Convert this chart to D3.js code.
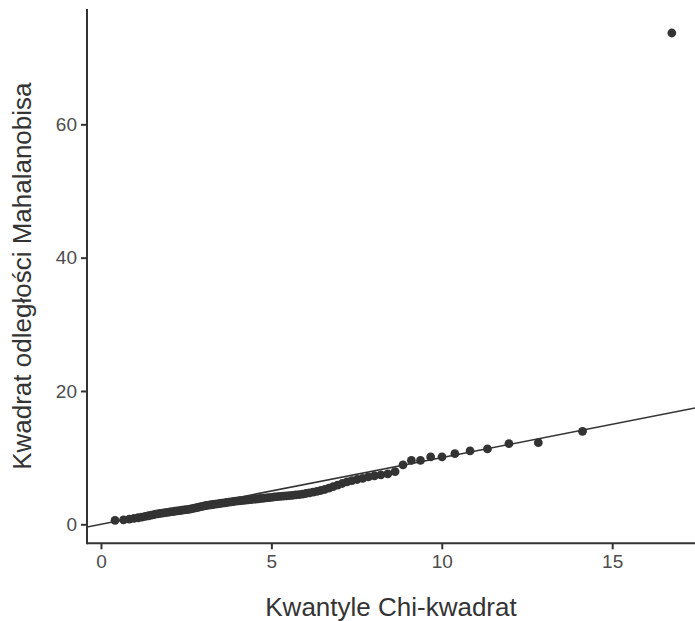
<!DOCTYPE html>
<html>
<head>
<meta charset="utf-8">
<script src="https://cdn.jsdelivr.net/npm/d3@7"></script>
<style>
  html, body { margin: 0; padding: 0; background: #fff; }
  svg { display: block; }
  text { font-family: "Liberation Sans", Arial, sans-serif; }
</style>
</head>
<body>
<svg id="chart" width="695" height="621"></svg>
<script>
// Chi-square quantiles (theoretical)
const chiQuantiles = [
  0.412, 0.662, 0.831, 0.969, 1.090, 1.199, 1.299, 1.394, 1.483, 1.569,
  1.651, 1.731, 1.808, 1.884, 1.957, 2.030, 2.101, 2.171, 2.240, 2.309,
  2.376, 2.443, 2.510, 2.576, 2.642, 2.707, 2.773, 2.838, 2.903, 2.967,
  3.032, 3.097, 3.162, 3.227, 3.292, 3.358, 3.423, 3.489, 3.555, 3.622,
  3.689, 3.756, 3.824, 3.892, 3.961, 4.031, 4.101, 4.171, 4.243, 4.315,
  4.388, 4.462, 4.537, 4.612, 4.689, 4.767, 4.846, 4.926, 5.007, 5.090,
  5.174, 5.260, 5.347, 5.436, 5.527, 5.620, 5.715, 5.812, 5.911, 6.013,
  6.117, 6.224, 6.335, 6.449, 6.566, 6.687, 6.812, 6.942, 7.077, 7.218,
  7.363, 7.517, 7.678, 7.846, 8.025, 8.214, 8.415, 8.630, 8.862, 9.108,
  9.375, 9.674, 10.007, 10.384, 10.830, 11.340, 11.970, 12.833, 14.130, 16.750
];
// Sorted squared Mahalanobis distances (observed)
const mahalanobisSq = [
  0.60, 0.66, 0.78, 0.88, 0.98, 1.08, 1.18, 1.28, 1.38, 1.47,
  1.55, 1.62, 1.68, 1.74, 1.80, 1.86, 1.91, 1.96, 2.01, 2.06,
  2.11, 2.16, 2.20, 2.25, 2.31, 2.38, 2.45, 2.52, 2.60, 2.68,
  2.75, 2.82, 2.88, 2.93, 2.97, 3.02, 3.07, 3.12, 3.17, 3.22,
  3.27, 3.32, 3.37, 3.42, 3.47, 3.51, 3.55, 3.59, 3.63, 3.67,
  3.71, 3.75, 3.79, 3.83, 3.87, 3.91, 3.95, 4.00, 4.05, 4.10,
  4.14, 4.18, 4.22, 4.26, 4.30, 4.35, 4.40, 4.45, 4.53, 4.62,
  4.72, 4.83, 4.95, 5.07, 5.22, 5.42, 5.65, 5.88, 6.12, 6.36,
  6.56, 6.72, 6.90, 7.10, 7.28, 7.42, 7.56, 7.90, 8.90, 9.58,
  9.58, 10.10, 10.12, 10.60, 11.00, 11.30, 12.10, 12.25, 13.95, 73.70
];
const xTicks = [0, 5, 10, 15];
const yTicks = [0, 20, 40, 60];
const refLine = { intercept: 0, slope: 1 };
const xTitle = "Kwantyle Chi-kwadrat";
const yTitle = "Kwadrat odległości Mahalanobisa";

const points = chiQuantiles.map((q, i) => ({ x: q, y: mahalanobisSq[i] }));

const svg = d3.select("#chart");
const panel = { left: 87, right: 695, top: 9, bottom: 543.3 };

const x = d3.scaleLinear().domain([-0.41, 17.43]).range([panel.left, panel.right]);
const y = d3.scaleLinear().domain([-2.85, 77.3]).range([panel.bottom, panel.top]);

svg.append("defs").append("clipPath").attr("id", "clip")
  .append("rect")
  .attr("x", panel.left).attr("y", panel.top)
  .attr("width", panel.right - panel.left)
  .attr("height", panel.bottom - panel.top);

const plot = svg.append("g").attr("clip-path", "url(#clip)");

// points
plot.selectAll("circle")
  .data(points)
  .enter().append("circle")
  .attr("cx", d => x(d.x))
  .attr("cy", d => y(d.y))
  .attr("r", 4.4)
  .attr("fill", "#333333");

// reference line
const [x0, x1] = x.domain();
plot.append("line")
  .attr("x1", x(x0)).attr("y1", y(refLine.intercept + refLine.slope * x0))
  .attr("x2", x(x1)).attr("y2", y(refLine.intercept + refLine.slope * x1))
  .attr("stroke", "#333333")
  .attr("stroke-width", 1.5);

// axes
const xAxis = svg.append("g")
  .attr("transform", `translate(0,${panel.bottom})`)
  .call(d3.axisBottom(x).tickValues(xTicks).tickSize(6).tickPadding(5).tickFormat(d3.format("d")));
const yAxis = svg.append("g")
  .attr("transform", `translate(${panel.left},0)`)
  .call(d3.axisLeft(y).tickValues(yTicks).tickSize(6).tickPadding(4).tickFormat(d3.format("d")));

[xAxis, yAxis].forEach(g => {
  g.select(".domain").remove();
  g.selectAll(".tick line").attr("stroke", "#333333").attr("stroke-width", 2);
  g.selectAll(".tick text")
    .attr("fill", "#4d4d4d")
    .style("font-size", "19px")
    .style("font-family", "'Liberation Sans', Arial, sans-serif");
});

// axis lines (full panel extent)
svg.append("line")
  .attr("x1", panel.left).attr("x2", panel.right)
  .attr("y1", panel.bottom).attr("y2", panel.bottom)
  .attr("stroke", "#333333").attr("stroke-width", 2);
svg.append("line")
  .attr("x1", panel.left).attr("x2", panel.left)
  .attr("y1", panel.top).attr("y2", panel.bottom + 1)
  .attr("stroke", "#333333").attr("stroke-width", 2);

// titles
svg.append("text")
  .attr("x", (panel.left + panel.right) / 2)
  .attr("y", 616)
  .attr("text-anchor", "middle")
  .attr("fill", "#333333")
  .style("font-size", "26px")
  .text(xTitle);

svg.append("text")
  .attr("transform", `translate(31,${(panel.top + panel.bottom) / 2}) rotate(-90)`)
  .attr("text-anchor", "middle")
  .attr("fill", "#333333")
  .style("font-size", "26px")
  .text(yTitle);
</script>
</body>
</html>
